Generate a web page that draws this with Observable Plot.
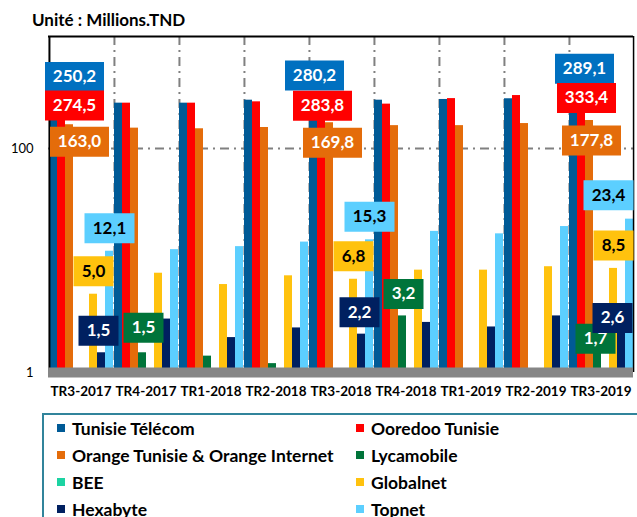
<!DOCTYPE html>
<html><head><meta charset="utf-8">
<script src="https://cdn.jsdelivr.net/npm/d3@7"></script>
<script src="https://cdn.jsdelivr.net/npm/@observablehq/plot@0.6"></script>
<style>
body{margin:0;background:#fff;width:637px;height:517px;overflow:hidden;position:relative;font-family:Lato,sans-serif}
#chart{position:absolute;left:0;top:0}
#title{position:absolute;left:32px;top:9px;font-weight:bold;font-size:17px;color:#000;white-space:nowrap}
#legend{position:absolute;left:42px;top:413px;width:640px;height:130px;border:2px solid #31849b;box-sizing:border-box}
.item{position:absolute;display:flex;align-items:center;font-weight:bold;font-size:17.5px;color:#000;white-space:nowrap;height:20px;transform:translateY(-50%)}
.sw{width:8px;height:8px;margin-right:7px;flex:none}
</style></head><body>
<div id="chart"></div>
<div id="title">Unité : Millions.TND</div>
<div id="legend"></div>
<script>
// ---- data ----
const quarters = ["TR3-2017","TR4-2017","TR1-2018","TR2-2018","TR3-2018","TR4-2018","TR1-2019","TR2-2019","TR3-2019"];
const series = ["Tunisie Télécom","Ooredoo Tunisie","Orange Tunisie & Orange Internet","Lycamobile","BEE","Globalnet","Hexabyte","Topnet"];
const tunisieTelecom = [250.2, 254, 254, 270, 280.2, 270, 274, 278, 289.1];
const ooredooTunisie = [274.5, 254, 254, 261, 283.8, 249, 279, 297, 333.4];
const orangeTunisie  = [163.0, 152, 150, 154, 169.8, 160, 160, 167, 177.8];
const lycamobile     = [null, 1.5, 1.4, 1.2, null, 3.2, null, null, 1.7];
const bee            = [null, null, null, null, null, null, null, null, null];
const globalnet      = [5.0, 7.7, 6.1, 7.3, 6.8, 8.2, 8.2, 8.8, 8.5];
const hexabyte       = [1.5, 3.0, 2.05, 2.5, 2.2, 2.8, 2.55, 3.2, 2.6];
const topnet         = [12.1, 12.5, 13.3, 14.6, 15.3, 18.2, 17.3, 20.1, 23.4];
const yTicks = [1, 100];
// points that carry a value label
const labelled = [
  ["TR3-2017","Tunisie Télécom"],["TR3-2017","Ooredoo Tunisie"],["TR3-2017","Orange Tunisie & Orange Internet"],
  ["TR3-2017","Globalnet"],["TR3-2017","Hexabyte"],["TR3-2017","Topnet"],
  ["TR4-2017","Lycamobile"],
  ["TR3-2018","Tunisie Télécom"],["TR3-2018","Ooredoo Tunisie"],["TR3-2018","Orange Tunisie & Orange Internet"],
  ["TR3-2018","Globalnet"],["TR3-2018","Hexabyte"],["TR3-2018","Topnet"],
  ["TR4-2018","Lycamobile"],
  ["TR3-2019","Tunisie Télécom"],["TR3-2019","Ooredoo Tunisie"],["TR3-2019","Orange Tunisie & Orange Internet"],
  ["TR3-2019","Lycamobile"],["TR3-2019","Globalnet"],["TR3-2019","Hexabyte"],["TR3-2019","Topnet"]
];

// ---- styles ----
const seriesColors = ["#005a96","#ff0000","#e46c0a","#00743a","#1cd3a2","#ffc20e","#002060","#5ccfff"];
const labelFill    = ["#0070c0","#ff0000","#e46c0a","#00743a","#1cd3a2","#ffc20e","#002060","#5ccfff"];
const labelInk     = ["#fff","#fff","#fff","#fff","#000","#000","#fff","#000"];
const labelOffsets = {
  "TR3-2017|Tunisie Télécom":[21,-27], "TR3-2017|Ooredoo Tunisie":[13,6], "TR3-2017|Orange Tunisie & Orange Internet":[10,17],
  "TR3-2017|Globalnet":[0,-23], "TR3-2017|Hexabyte":[-3,-22], "TR3-2017|Topnet":[0,-23],
  "TR4-2017|Lycamobile":[1,-25],
  "TR3-2018|Tunisie Télécom":[1,-23], "TR3-2018|Ooredoo Tunisie":[1,8], "TR3-2018|Orange Tunisie & Orange Internet":[3,20],
  "TR3-2018|Globalnet":[0,-23], "TR3-2018|Hexabyte":[-2,-22], "TR3-2018|Topnet":[0,-23],
  "TR4-2018|Lycamobile":[1,-22],
  "TR3-2019|Tunisie Télécom":[11,-28], "TR3-2019|Ooredoo Tunisie":[5,8], "TR3-2019|Orange Tunisie & Orange Internet":[2,20],
  "TR3-2019|Lycamobile":[-2,-8], "TR3-2019|Globalnet":[0,-23], "TR3-2019|Hexabyte":[-9,-8], "TR3-2019|Topnet":[-21,-24]
};

const valuesBySeries = [tunisieTelecom, ooredooTunisie, orangeTunisie, lycamobile, bee, globalnet, hexabyte, topnet];
const rows = [];
series.forEach((s, k) => quarters.forEach((q, i) => {
  const v = valuesBySeries[k][i];
  if (v != null) rows.push({quarter: q, series: s, value: v});
}));

const W = 637, H = 410, mL = 48, mR = 4, mT = 36, mB = 38;
const bw = (W - mL - mR) / quarters.length / series.length;
const fmt = v => v.toFixed(1).replace(".", ",");
const boxSymbol = (w, h) => ({draw(ctx) { ctx.moveTo(-w/2, -h/2); ctx.lineTo(w/2, -h/2); ctx.lineTo(w/2, h/2); ctx.lineTo(-w/2, h/2); ctx.closePath(); }});
const boxW = {3: 40, 4: 50, 5: 59};

const labelMarks = [];
for (const [q, s] of labelled) {
  const k = series.indexOf(s);
  const v = valuesBySeries[k][quarters.indexOf(q)];
  const t = fmt(v);
  const [dx, dy] = labelOffsets[q + "|" + s];
  const d = [{quarter: q, series: s, value: v, text: t}];
  labelMarks.push(Plot.dot(d, {fx: "quarter", x: "series", y: "value", dx, dy, symbol: boxSymbol(boxW[t.length], 30), fill: labelFill[k], stroke: "none"}));
  labelMarks.push(Plot.text(d, {fx: "quarter", x: "series", y: "value", dx, dy, text: "text", fill: labelInk[k], fontWeight: "bold", fontSize: 17, fontFamily: "Lato"}));
}

const dash = "9,5,2,5";
const chart = Plot.plot({
  width: W, height: H, marginLeft: mL, marginRight: mR, marginTop: mT, marginBottom: mB,
  style: {fontFamily: "Lato", fontSize: "13px", color: "#000", background: "transparent"},
  fx: {domain: quarters, padding: 0, label: null},
  x: {domain: series, padding: 0, axis: null},
  y: {type: "log", domain: [1, 1000], label: null},
  color: {domain: series, range: seriesColors},
  marks: [
    Plot.ruleY([100], {stroke: "#808080", strokeWidth: 2, strokeDasharray: dash}),
    Plot.ruleX(quarters.slice(1), {fx: d => d, x: () => series[0], dx: -bw/2, stroke: "#808080", strokeWidth: 2, strokeDasharray: dash}),
    Plot.barY(rows, {fx: "quarter", x: "series", y1: 1, y2: "value", fill: "series"}),
    Plot.ruleY([1000], {stroke: "#000", strokeWidth: 2}),
    Plot.ruleX([quarters[0]], {fx: d => d, x: () => series[0], dx: -bw/2, stroke: "#000", strokeWidth: 2}),
    Plot.ruleX([quarters[quarters.length-1]], {fx: d => d, x: () => series[series.length-1], dx: bw/2, stroke: "#000", strokeWidth: 1.5}),
    Plot.ruleY([1], {stroke: "#868686", strokeWidth: 10}),
    Plot.axisY({ticks: yTicks, tickFormat: d => String(d), tickSize: 0, tickPadding: 15, fontSize: 13, label: null}),
    Plot.axisFx({anchor: "bottom", tickSize: 0, tickPadding: 14, fontSize: 13.5, fontWeight: "bold", label: null}),
    ...labelMarks
  ]
});
document.getElementById("chart").appendChild(chart);

// legend
const leg = document.getElementById("legend");
series.forEach((s, k) => {
  const col = k % 2, row = Math.floor(k / 2);
  const it = document.createElement("div");
  it.className = "item";
  it.style.left = (col ? 312 : 13) + "px";
  it.style.top = (13 + row * 27) + "px";
  it.innerHTML = `<span class="sw" style="background:${seriesColors[k]}"></span><span></span>`;
  it.lastChild.textContent = s;
  leg.appendChild(it);
});
</script>
</body></html>
